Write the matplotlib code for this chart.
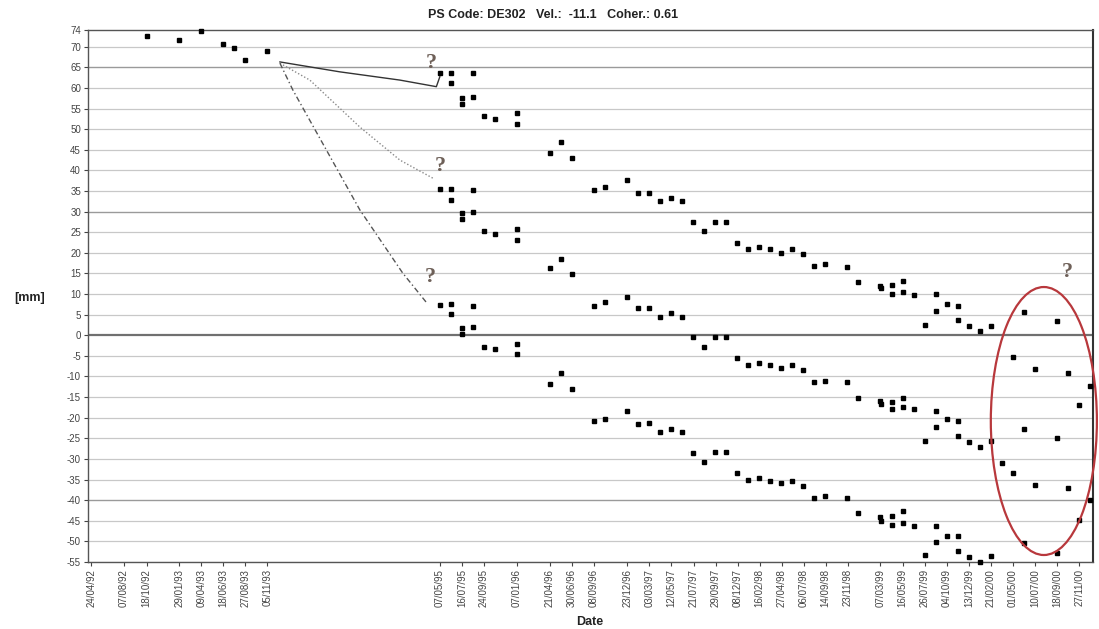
import pandas as pd
import matplotlib
matplotlib.use('Agg')
import matplotlib.pyplot as plt
import matplotlib.dates as mdates
from matplotlib.patches import Ellipse

plt.rcParams['font.family'] = ['Liberation Sans', 'DejaVu Sans']

# early acquisitions 1992-93
dates_early = ['18/10/92', '29/01/93', '09/04/93', '18/06/93', '23/07/93', '27/08/93', '05/11/93']
vals_early = [72.6, 71.6, 73.8, 70.7, 69.7, 66.7, 69.0]

# acquisitions 1995-2000, three candidate unwrappings
dates_main = ['07/05/95', '11/06/95', '12/06/95', '16/07/95', '17/07/95', '20/08/95', '21/08/95',
              '24/09/95', '29/10/95', '07/01/96', '08/01/96', '21/04/96', '26/05/96', '30/06/96',
              '08/09/96', '13/10/96', '22/12/96', '26/01/97', '02/03/97', '06/04/97', '11/05/97',
              '15/06/97', '20/07/97', '24/08/97', '28/09/97', '02/11/97', '07/12/97', '11/01/98',
              '15/02/98', '22/03/98', '26/04/98', '31/05/98', '05/07/98', '09/08/98', '13/09/98',
              '22/11/98', '27/12/98', '07/03/99', '08/03/99', '11/04/99', '12/04/99', '16/05/99',
              '17/05/99', '20/06/99', '25/07/99', '29/08/99', '30/08/99', '03/10/99', '07/11/99',
              '08/11/99', '12/12/99', '16/01/00', '20/02/00']
vals_top = [63.5, 63.7, 61.1, 57.6, 56.0, 63.5, 57.8, 53.1, 52.5, 53.8,
            51.2, 44.1, 46.8, 42.9, 35.2, 36.0, 37.6, 34.4, 34.6, 32.6,
            33.3, 32.5, 27.4, 25.3, 27.5, 27.5, 22.4, 20.9, 21.3, 20.9,
            20.0, 21.0, 19.7, 16.8, 17.2, 16.6, 13.0, 11.9, 11.4, 12.2,
            9.9, 13.2, 10.6, 9.7, 2.5, 9.9, 5.9, 7.6, 7.1, 3.7,
            2.2, 1.1, 2.3]
vals_mid = [35.6, 35.6, 32.9, 29.6, 28.2, 35.2, 29.9, 25.3, 24.5, 25.7,
            23.1, 16.2, 18.6, 14.8, 7.1, 8.0, 9.3, 6.5, 6.5, 4.5,
            5.5, 4.5, -0.5, -2.8, -0.4, -0.5, -5.5, -7.2, -6.7, -7.1,
            -7.9, -7.1, -8.4, -11.3, -11.1, -11.3, -15.2, -16.0, -16.7, -16.1,
            -18.0, -15.1, -17.3, -18.0, -25.6, -18.4, -22.2, -20.4, -20.7, -24.4,
            -25.8, -27.2, -25.6]
vals_low = [7.3, 7.6, 5.1, 1.7, 0.2, 7.1, 1.9, -2.8, -3.4, -2.1,
            -4.6, -11.9, -9.2, -13.1, -20.7, -20.2, -18.4, -21.5, -21.2, -23.4,
            -22.8, -23.4, -28.6, -30.7, -28.4, -28.4, -33.5, -35.0, -34.6, -35.3,
            -35.9, -35.3, -36.6, -39.4, -38.9, -39.4, -43.0, -44.0, -45.0, -43.8,
            -46.0, -42.6, -45.5, -46.2, -53.3, -46.2, -50.1, -48.7, -48.7, -52.3,
            -53.7, -54.9, -53.5]

# points inside the red ellipse (2000)
dates_2000 = ['26/03/00', '30/04/00', '30/04/00', '04/06/00', '04/06/00', '04/06/00',
              '09/07/00', '09/07/00', '17/09/00', '17/09/00', '17/09/00', '22/10/00',
              '22/10/00', '26/11/00', '26/11/00', '31/12/00', '31/12/00']
vals_2000 = [-31.1, -5.2, -33.3, 5.7, -22.8, -50.5, -8.3, -36.3, 3.4, -24.8, -52.7,
             -9.1, -37.0, -16.9, -44.8, -12.3, -40.0]

tick_dates = ['24/04/92', '07/08/92', '18/10/92', '29/01/93', '09/04/93', '18/06/93', '27/08/93',
              '05/11/93', '07/05/95', '16/07/95', '24/09/95', '07/01/96', '21/04/96', '30/06/96',
              '08/09/96', '23/12/96', '03/03/97', '12/05/97', '21/07/97', '29/09/97', '08/12/97',
              '16/02/98', '27/04/98', '06/07/98', '14/09/98', '23/11/98', '07/03/99', '16/05/99',
              '26/07/99', '04/10/99', '13/12/99', '21/02/00', '01/05/00', '10/07/00', '18/09/00',
              '27/11/00']

# hand-drawn guide lines towards the three "?"
guide_solid_d = ['15/12/93', '23/06/94', '31/12/94', '26/04/95', '07/05/95']
guide_solid_v = [66.3, 63.9, 61.9, 60.3, 62.7]
guide_dot_d = ['15/12/93', '20/03/94', '26/08/94', '31/12/94', '15/04/95']
guide_dot_v = [66.0, 61.9, 50.5, 42.5, 38.1]
guide_dash_d = ['15/12/93', '25/01/94', '26/08/94', '09/01/95', '27/03/95']
guide_dash_v = [66.0, 59.5, 30.4, 15.1, 7.8]
qmark_d = ['11/04/95', '07/05/95', '06/04/95', '20/10/00']
qmark_v = [66.0, 41.0, 14.1, 15.3]


def d(lst):
    return pd.to_datetime(lst, format='%d/%m/%y')


fig = plt.figure(figsize=(10.99, 6.29), dpi=100)
ax = fig.add_axes([0.080, 0.1065, 0.9145, 0.8455])

yt = list(range(-55, 71, 5))
for v in yt:
    if v == 0:
        ax.axhline(v, color='#707070', lw=1.6, zorder=1)
    elif v in (65, 30, -40):
        ax.axhline(v, color='#9a9a9a', lw=1.0, zorder=1)
    else:
        ax.axhline(v, color='#c8c8c8', lw=0.9, zorder=1)

mk = dict(marker='s', ls='none', color='black', ms=3.0, zorder=4, clip_on=False)
ax.plot(d(dates_early), vals_early, **mk)
ax.plot(d(dates_main), vals_top, **mk)
ax.plot(d(dates_main), vals_mid, **mk)
ax.plot(d(dates_main), vals_low, **mk)
ax.plot(d(dates_2000), vals_2000, **mk)

ax.plot(d(guide_solid_d), guide_solid_v, color='#333333', lw=1.0, zorder=3)
ax.plot(d(guide_dot_d), guide_dot_v, color='#8a8a8a', lw=1.0, ls=(0, (1, 1.5)), zorder=3)
ax.plot(d(guide_dash_d), guide_dash_v, color='#555555', lw=1.0, ls=(0, (4, 2, 1, 2)), zorder=3)

for qd, qv in zip(d(qmark_d), qmark_v):
    ax.text(qd, qv, '?', family='Liberation Serif', fontsize=16, fontweight='bold',
            color='#6e6058', ha='center', va='center', zorder=5)

ell = Ellipse((mdates.date2num(pd.Timestamp('2000-08-07')), -20.8), width=337, height=65,
              fill=False, edgecolor='#b8383c', lw=1.6, zorder=5, clip_on=False)
ax.add_patch(ell)

ax.set_xlim(pd.Timestamp('1992-04-14'), pd.Timestamp('2001-01-10'))
ax.set_ylim(-55, 74)
ax.set_yticks(yt + [74])
ax.set_yticklabels([str(v) for v in yt] + ['74'], fontsize=7, color='#444444')
ax.set_xticks(d(tick_dates))
ax.set_xticklabels(tick_dates, rotation=90, fontsize=7, color='#444444')
ax.tick_params(axis='both', length=3, width=0.8, color='#444444', pad=2)

for s in ax.spines.values():
    s.set_color('#555555')
    s.set_linewidth(1.0)
ax.spines['right'].set_color('#333333')
ax.spines['right'].set_linewidth(1.5)

fig.text(553 / 1099, 1 - 15 / 629, 'PS Code: DE302   Vel.:  -11.1   Coher.: 0.61',
         ha='center', va='center', fontsize=9, fontweight='bold', color='#222222')
fig.text(30 / 1099, 1 - 298 / 629, '[mm]', ha='center', va='center', fontsize=9,
         fontweight='bold', color='#222222')
fig.text(590 / 1099, 1 - 622 / 629, 'Date', ha='center', va='center', fontsize=9,
         fontweight='bold', color='#222222')

fig.savefig('out.png', dpi=100)
